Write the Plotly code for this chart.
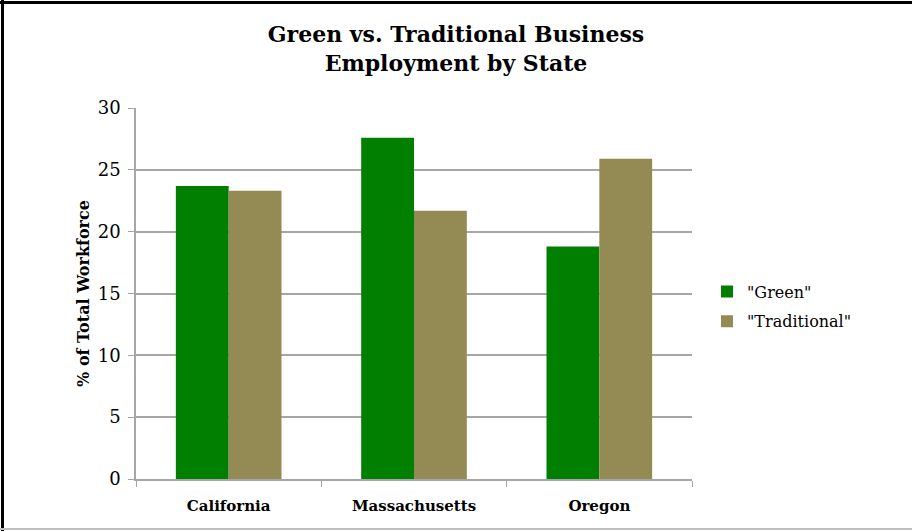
import plotly.graph_objects as go

states = ["California", "Massachusetts", "Oregon"]
green = [23.7, 27.6, 18.8]
traditional = [23.3, 21.7, 25.9]
series_names = ['"Green"', '"Traditional"']
y_ticks = [0, 5, 10, 15, 20, 25, 30]

W, H = 912, 531
L, R, T, B = 136, 220, 108, 52

fig = go.Figure()
fig.add_trace(go.Bar(x=states, y=green, name=series_names[0], legendgroup="g",
                     marker=dict(color="#007F00", line=dict(width=0))))
fig.add_trace(go.Bar(x=states, y=traditional, name=series_names[1], legendgroup="t",
                     marker=dict(color="#948A54", line=dict(width=0))))

serif = "DejaVu Serif, Liberation Serif, serif"
fig.update_layout(
    width=W, height=H,
    margin=dict(l=L, r=R, t=T, b=B),
    paper_bgcolor="white", plot_bgcolor="white",
    barmode="group", bargap=0.43, bargroupgap=0,
    title=dict(text="<b>Green vs. Traditional Business<br>Employment by State</b>",
               x=0.5, xanchor="center", y=1 - 42 / H, yanchor="middle",
               font=dict(family=serif, size=22, color="black")),
    font=dict(family=serif, color="black"),
    legend=dict(x=1.027, y=0.465, xanchor="left", yanchor="middle",
                font=dict(family=serif, size=16, color="black"),
                itemwidth=30, tracegroupgap=6, bgcolor="rgba(0,0,0,0)"),
    showlegend=True,
)
fig.update_yaxes(range=[0, 30], tickvals=y_ticks, showgrid=True, gridcolor="#A6A6A6", gridwidth=1.5,
                 showline=True, linecolor="#A6A6A6", linewidth=1.5, ticks="outside", ticklen=6,
                 tickcolor="#A6A6A6", ticklabelstandoff=4,
                 tickfont=dict(family=serif, size=18, color="black"),
                 title=dict(text="<b>% of Total Workforce</b>", font=dict(family=serif, size=16, color="black"), standoff=4),
                 zeroline=False)
fig.update_xaxes(showline=True, linecolor="#A6A6A6", linewidth=1.5, ticks="outside", ticklen=6,
                 tickcolor="#A6A6A6", tickson="boundaries", ticklabelstandoff=12,
                 tickfont=dict(family=serif, size=15, color="black"),
                 tickvals=states, ticktext=["<b>%s</b>" % s for s in states])

pw, ph = W - L - R, H - T - B
def px(x): return (x - L) / pw
def py(y): return (H - B - y) / ph
fig.add_shape(type="line", xref="paper", yref="paper", x0=px(2.5), x1=px(2.5), y0=py(0), y1=py(531), line=dict(color="black", width=3))
fig.add_shape(type="line", xref="paper", yref="paper", x0=px(0), x1=px(912), y0=py(2.5), y1=py(2.5), line=dict(color="black", width=3))
fig.add_shape(type="line", xref="paper", yref="paper", x0=px(0), x1=px(912), y0=py(529), y1=py(529), line=dict(color="#BFBFBF", width=2))

fig.write_html("out.html")
